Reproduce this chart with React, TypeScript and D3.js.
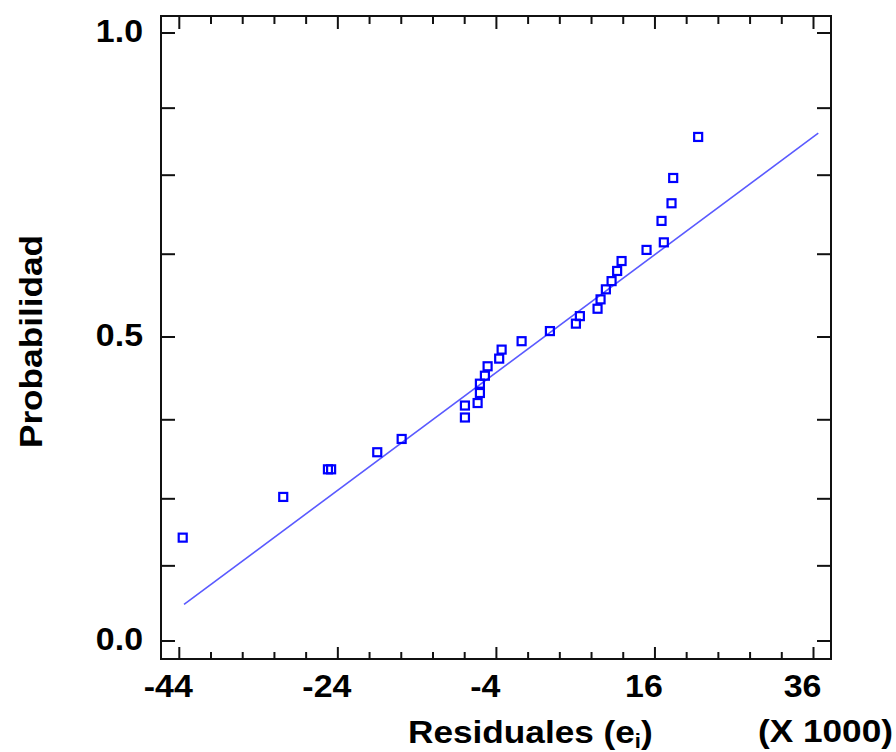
import React from "react";
import * as d3 from "d3";

// Residuals (X 1000) and their plotted cumulative probabilities
const residuals = [
  -43.57, -30.89, -25.25, -24.85, -19.03, -15.95, -7.97, -7.97, -6.37, -6.08, -6.08,
  -5.45, -5.11, -3.65, -3.34, -0.82, 2.75, 6.03, 6.53, 8.76, 9.14, 9.81, 10.53,
  11.23, 11.79, 14.94, 17.12, 16.83, 18.09, 18.3, 21.45,
];
const probabilities = [
  0.0207, 0.052, 0.0893, 0.0893, 0.1207, 0.15, 0.2066, 0.243, 0.251, 0.2846, 0.3176,
  0.347, 0.383, 0.413, 0.449, 0.483, 0.524, 0.554, 0.584, 0.613, 0.649, 0.686, 0.715,
  0.749, 0.78, 0.812, 0.832, 0.881, 0.913, 0.947, 0.979,
];

// Fitted normal line
const fitMean = 2.0;
const fitSd = 16.7;
const fitRange = [-43.4, 36.6];

const xTicks = d3.range(-44, 37, 4);
const xLabeled = [-44, -24, -4, 16, 36];
const yTicks = [0.001, 0.01, 0.05, 0.2, 0.5, 0.8, 0.95, 0.99, 0.999];
const yLabels: Record<string, string> = { "0.001": "0.0", "0.5": "0.5", "0.999": "1.0" };

const xTitle = "Residuales (e";
const xTitleSub = "i";
const xUnit = "(X 1000)";
const yTitle = "Probabilidad";

function invNorm(p: number): number {
  const a = [-3.969683028665376e1, 2.209460984245205e2, -2.759285104469687e2, 1.38357751867269e2, -3.066479806614716e1, 2.506628277459239];
  const b = [-5.447609879822406e1, 1.615858368580409e2, -1.556989798598866e2, 6.680131188771972e1, -1.328068155288572e1];
  const c = [-7.784894002430293e-3, -3.223964580411365e-1, -2.400758277161838, -2.549671348402229, 4.374664141464968, 2.938163982698783];
  const d = [7.784695709041462e-3, 3.224671290700398e-1, 2.445134137142996, 3.754408661907416];
  const plow = 0.02425;
  if (p < plow) {
    const q = Math.sqrt(-2 * Math.log(p));
    return (((((c[0] * q + c[1]) * q + c[2]) * q + c[3]) * q + c[4]) * q + c[5]) /
      ((((d[0] * q + d[1]) * q + d[2]) * q + d[3]) * q + 1);
  }
  if (p <= 1 - plow) {
    const q = p - 0.5;
    const r = q * q;
    return ((((((a[0] * r + a[1]) * r + a[2]) * r + a[3]) * r + a[4]) * r + a[5]) * q) /
      (((((b[0] * r + b[1]) * r + b[2]) * r + b[3]) * r + b[4]) * r + 1);
  }
  const q = Math.sqrt(-2 * Math.log(1 - p));
  return -(((((c[0] * q + c[1]) * q + c[2]) * q + c[3]) * q + c[4]) * q + c[5]) /
    ((((d[0] * q + d[1]) * q + d[2]) * q + d[3]) * q + 1);
}

export default function App() {
  const W = 896, H = 752;
  const frame = { left: 161, right: 831, top: 16, bottom: 659 };
  const x = d3.scaleLinear().domain([-44, 36]).range([179.3, 813.5]);
  const zMax = invNorm(0.999);
  const z = d3.scaleLinear().domain([-zMax, zMax]).range([641, 33]);
  const y = (p: number) => z(invNorm(p));

  const font = "'Liberation Sans', Arial, Helvetica, sans-serif";
  const lineGen = d3.line<number>().x((v) => x(v)).y((v) => z((v - fitMean) / fitSd));
  const ms = 8;

  return (
    <svg width={W} height={H} style={{ position: "absolute", left: 0, top: 0, background: "#fff" }}>
      <rect x={0} y={0} width={W} height={H} fill="#fff" />
      {/* fitted line */}
      <path d={lineGen(fitRange) || ""} fill="none" stroke="#5a5aff" strokeWidth={1.6} />
      {/* points */}
      {residuals.map((r, i) => (
        <rect key={i} x={x(r) - ms / 2} y={y(probabilities[i]) - ms / 2} width={ms} height={ms}
          fill="none" stroke="#0000ff" strokeWidth={2.2} />
      ))}
      {/* frame */}
      <rect x={frame.left} y={frame.top} width={frame.right - frame.left} height={frame.bottom - frame.top}
        fill="none" stroke="#111" strokeWidth={2} />
      {/* x ticks */}
      {xTicks.map((t) => {
        const major = xLabeled.includes(t);
        return (
          <g key={"xt" + t} stroke="#111" strokeWidth={2}>
            <line x1={x(t)} x2={x(t)} y1={frame.bottom} y2={frame.bottom - (major ? 12 : 7)} />
            <line x1={x(t)} x2={x(t)} y1={frame.top} y2={frame.top + (major ? 13 : 8)} />
          </g>
        );
      })}
      {xLabeled.map((t) => (
        <g key={"xl" + t} transform={`translate(${x(t) - 11},697) scale(1.06,1)`}>
          <text textAnchor="middle" fontFamily={font} fontWeight="bold" fontSize={32} fill="#000">{String(t)}</text>
        </g>
      ))}
      {/* y ticks */}
      {yTicks.map((p) => (
        <g key={"yt" + p} stroke="#111" strokeWidth={2}>
          <line x1={frame.left} x2={frame.left + 14} y1={y(p)} y2={y(p)} />
          <line x1={frame.right} x2={frame.right - 14} y1={y(p)} y2={y(p)} />
        </g>
      ))}
      {yTicks.filter((p) => yLabels[String(p)]).map((p) => (
        <g key={"yl" + p} transform={`translate(143,${y(p) + 8.5}) scale(1.06,1)`}>
          <text textAnchor="end" fontFamily={font} fontWeight="bold" fontSize={32} fill="#000">{yLabels[String(p)]}</text>
        </g>
      ))}
      {/* titles */}
      <g transform="translate(408,743) scale(1.1,1)">
        <text fontFamily={font} fontWeight="bold" fontSize={32} fill="#000">
          {xTitle}
          <tspan fontSize={20} dy={5}>{xTitleSub}</tspan>
          <tspan dy={-5}>)</tspan>
        </text>
      </g>
      <g transform="translate(758,742) scale(1.1,1)">
        <text fontFamily={font} fontWeight="bold" fontSize={32} fill="#000">{xUnit}</text>
      </g>
      <g transform="translate(42,341.5) rotate(-90) scale(1.1,1)">
        <text textAnchor="middle" fontFamily={font} fontWeight="bold" fontSize={32} fill="#000">{yTitle}</text>
      </g>
    </svg>
  );
}
